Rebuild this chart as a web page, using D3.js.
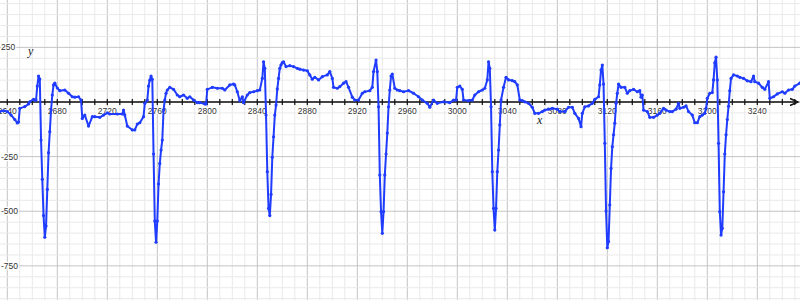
<!DOCTYPE html>
<html>
<head>
<meta charset="utf-8">
<script src="https://cdn.jsdelivr.net/npm/d3@7"></script>
<style>
  body { margin: 0; background: #fff; }
  svg { display: block; }
</style>
</head>
<body>
<div id="chart"></div>
<script>
// sample positions (x)
var xs = [
  2634, 2637, 2640, 2643, 2646, 2648, 2649, 2650, 2654, 2657, 2658, 2661, 2662, 2663, 2664, 2665, 2666,
  2667, 2668, 2669, 2670, 2671, 2672, 2673, 2674, 2675, 2676, 2677, 2678, 2680, 2682, 2686, 2689, 2692,
  2694, 2697, 2699, 2700, 2702, 2705, 2708, 2710, 2714, 2717, 2720, 2722, 2728, 2732, 2733, 2734, 2736,
  2740, 2742, 2744, 2746, 2749, 2750, 2752, 2753, 2754, 2755, 2756,
  2757, 2758, 2759, 2760, 2761, 2762, 2763, 2764, 2765, 2766, 2767, 2768, 2770, 2773, 2776, 2778, 2781,
  2784, 2786, 2789, 2792, 2794, 2798, 2799, 2800, 2804, 2808, 2812, 2814, 2818, 2821, 2822, 2824, 2826,
  2828, 2829, 2832, 2834, 2837, 2840, 2842, 2844, 2845, 2846,
  2847, 2848, 2849, 2850, 2851, 2852, 2853, 2854, 2855, 2856, 2857, 2858, 2859, 2860, 2861, 2863, 2866,
  2869, 2872, 2874, 2877, 2880, 2882, 2884, 2886, 2889, 2892, 2896, 2898, 2900, 2901, 2904, 2906, 2909,
  2911, 2913, 2916, 2918, 2921, 2924, 2926, 2930, 2932, 2933, 2935, 2936,
  2937, 2938, 2939, 2940, 2941, 2942, 2943, 2944, 2945, 2946, 2947, 2948, 2950, 2952, 2954, 2957, 2961,
  2965, 2969, 2972, 2976, 2978, 2981, 2984, 2989, 2994, 2997, 2999, 3000, 3002, 3004, 3005, 3009, 3012,
  3014, 3017, 3020, 3022, 3024, 3025, 3026,
  3027, 3028, 3029, 3030, 3031, 3032, 3033, 3034, 3035, 3037, 3039, 3041, 3044, 3046, 3048, 3050, 3052,
  3054, 3057, 3060, 3062, 3065, 3068, 3070, 3073, 3076, 3080, 3082, 3086, 3089, 3092, 3094, 3097, 3099,
  3100, 3102, 3105, 3108, 3110, 3113, 3114, 3115, 3116, 3117,
  3118, 3119, 3120, 3121, 3122, 3123, 3124, 3125, 3126, 3127, 3128, 3129, 3131, 3134, 3136, 3138, 3141,
  3144, 3146, 3147, 3148, 3149, 3152, 3154, 3157, 3160, 3162, 3165, 3167, 3170, 3172, 3175, 3177, 3178,
  3181, 3183, 3185, 3188, 3190, 3192, 3194, 3196, 3198, 3199, 3200, 3202, 3204, 3205, 3206, 3207, 3208,
  3209, 3210, 3211, 3212, 3213, 3214, 3215, 3216, 3217, 3218, 3219, 3221, 3224, 3226, 3229, 3232, 3235,
  3237, 3238, 3241, 3244, 3246, 3249, 3250, 3253, 3256, 3260, 3262, 3265, 3268, 3270, 3274, 3275
];

// signal values (y) at those positions
var ys = [
  -44, -40, -44, -60, -80, -96, -92, -29, -21, -9, 1, 12, 9, 9, 73, 119, 105,
  -174, -354, -520, -619, -568, -400, -232, -136, -37, 32, 78, 86, 64, 52, 55, 40, 24,
  22, 24, 9, -75, -60, -110, -67, -67, -70, -60, -50, -55, -55, -55, -37, -60, -110,
  -128, -128, -101, -95, -67, -6, 9, 73, 100, 119, 104,
  -238, -545, -642, -545, -375, -281, -220, -174, -37, 9, 40, 55, 67, 58, 32, 24, 32,
  17, 24, 9, -3, -3, -9, -9, 58, 67, 63, 63, 55, 78, 82, 78, 47, 6,
  24, -3, 32, 43, 47, 52, 55, 108, 184, 154,
  -60, -319, -487, -520, -423, -253, -159, -60, -14, 60, 108, 154, 170, 180, 184, 162, 166,
  162, 154, 150, 146, 143, 124, 104, 113, 101, 116, 124, 139, 108, 67, 63, 70, 86,
  93, 67, 22, 9, 9, 40, 47, 52, 67, 139, 192, 139,
  -22, -334, -502, -601, -502, -334, -238, -142, -22, 55, 119, 128, 63, 55, 52, 47, 52,
  40, 24, 9, -6, -24, 9, -6, 1, -3, 9, 9, 67, 73, 58, 9, 6, 9,
  32, 47, 55, 63, 101, 184, 154,
  -22, -319, -487, -586, -487, -319, -220, -105, 9, 67, 113, 101, 98, 93, 78, 9, 6,
  1, -6, -24, -52, -52, -44, -37, -33, -29, -33, -44, -44, -24, -24, -52, -75, -113,
  -52, -22, -18, -6, 12, 24, 78, 146, 169, 82,
  -189, -499, -667, -639, -471, -304, -205, -150, -97, -6, 40, 82, 67, 67, 40, 52, 58,
  47, 52, 22, 32, -37, -44, -70, -70, -60, -52, -29, -37, -44, -44, -33, -6, -29,
  -24, -18, -44, -60, -95, -95, -67, -60, -52, -29, 17, 40, 43, 101, 180, 205, 101,
  -189, -502, -609, -578, -411, -238, -150, -80, -20, 52, 108, 124, 119, 113, 108, 97, 93,
  119, 93, 86, 67, 58, 93, 17, 24, 37, 47, 40, 55, 58, 73, 86, 88
];

// tick labels
var xTickLabels = [2640, 2680, 2720, 2760, 2800, 2840, 2880, 2920, 2960, 3000, 3040, 3080, 3120, 3160, 3200, 3240];
var yTickLabels = [250, -250, -500, -750];

var width = 800, height = 300;

var svg = d3.select("#chart")
    .append("svg")
    .attr("width", width)
    .attr("height", height);

// scales: 40 units = 50px on x, 250 units = 54.6px on y
var x = d3.scaleLinear()
    .domain([2634.16, 3274.16])
    .range([0, width]);
var y = d3.scaleLinear()
    .domain([466.8, -906.2])
    .range([0, height]);

// minor grid
var grid = svg.append("g");
grid.selectAll("line.vminor")
    .data(d3.range(2630, 3281, 10))
    .enter().append("line")
    .attr("x1", d => x(d)).attr("x2", d => x(d))
    .attr("y1", 0).attr("y2", height)
    .attr("stroke", d => d % 40 === 0 ? "#c4c4c4" : "#e9e9e9")
    .attr("stroke-width", 1);
grid.selectAll("line.hminor")
    .data(d3.range(-900, 451, 50))
    .enter().append("line")
    .attr("y1", d => y(d)).attr("y2", d => y(d))
    .attr("x1", 0).attr("x2", width)
    .attr("stroke", d => d % 250 === 0 ? "#c4c4c4" : "#e9e9e9")
    .attr("stroke-width", 1);

// x axis line with arrow and small ticks
var y0 = y(0);
svg.append("line")
    .attr("x1", 0).attr("x2", 796)
    .attr("y1", y0).attr("y2", y0)
    .attr("stroke", "#111")
    .attr("stroke-width", 1.5);
svg.append("path")
    .attr("d", "M790," + (y0 - 3.5) + "L798," + y0 + "L790," + (y0 + 3.5))
    .attr("fill", "none")
    .attr("stroke", "#111")
    .attr("stroke-width", 1.5);
svg.append("g")
    .selectAll("line")
    .data(d3.range(2640, 3271, 10))
    .enter().append("line")
    .attr("x1", d => x(d)).attr("x2", d => x(d))
    .attr("y1", y0 - 3).attr("y2", y0 + 3)
    .attr("stroke", "#111")
    .attr("stroke-width", 1.2);

// tick labels
svg.append("g")
    .selectAll("text")
    .data(xTickLabels)
    .enter().append("text")
    .attr("x", d => x(d))
    .attr("y", y0 + 12)
    .attr("text-anchor", "middle")
    .attr("font-family", "Liberation Sans, Arial, sans-serif")
    .attr("font-size", 8.5)
    .attr("fill", "#333")
    .attr("stroke", "#fff")
    .attr("stroke-width", 2.5)
    .attr("paint-order", "stroke")
    .text(d => d);

svg.append("g")
    .selectAll("text")
    .data(yTickLabels)
    .enter().append("text")
    .attr("x", 1)
    .attr("y", d => y(d) + 3)
    .attr("text-anchor", "start")
    .attr("font-family", "Liberation Sans, Arial, sans-serif")
    .attr("font-size", 8.5)
    .attr("fill", "#333")
    .attr("stroke", "#fff")
    .attr("stroke-width", 2.5)
    .attr("paint-order", "stroke")
    .text(d => d);

// axis names
svg.append("text")
    .attr("x", 28).attr("y", 55)
    .attr("font-family", "Liberation Serif, Times New Roman, serif")
    .attr("font-style", "italic")
    .attr("font-size", 12)
    .attr("fill", "#222")
    .text("y");
svg.append("text")
    .attr("x", 537).attr("y", 124)
    .attr("font-family", "Liberation Serif, Times New Roman, serif")
    .attr("font-style", "italic")
    .attr("font-size", 12)
    .attr("fill", "#222")
    .text("x");

// the signal
var pts = xs.map((d, i) => [d, ys[i]]);
var line = d3.line()
    .x(d => x(d[0]))
    .y(d => y(d[1]));

svg.append("path")
    .datum(pts)
    .attr("d", line)
    .attr("fill", "none")
    .attr("stroke", "#1f3cff")
    .attr("stroke-width", 2)
    .attr("stroke-linejoin", "round");

svg.append("g")
    .selectAll("circle")
    .data(pts)
    .enter().append("circle")
    .attr("cx", d => x(d[0]))
    .attr("cy", d => y(d[1]))
    .attr("r", 1.6)
    .attr("fill", "#1f3cff");
</script>
</body>
</html>
